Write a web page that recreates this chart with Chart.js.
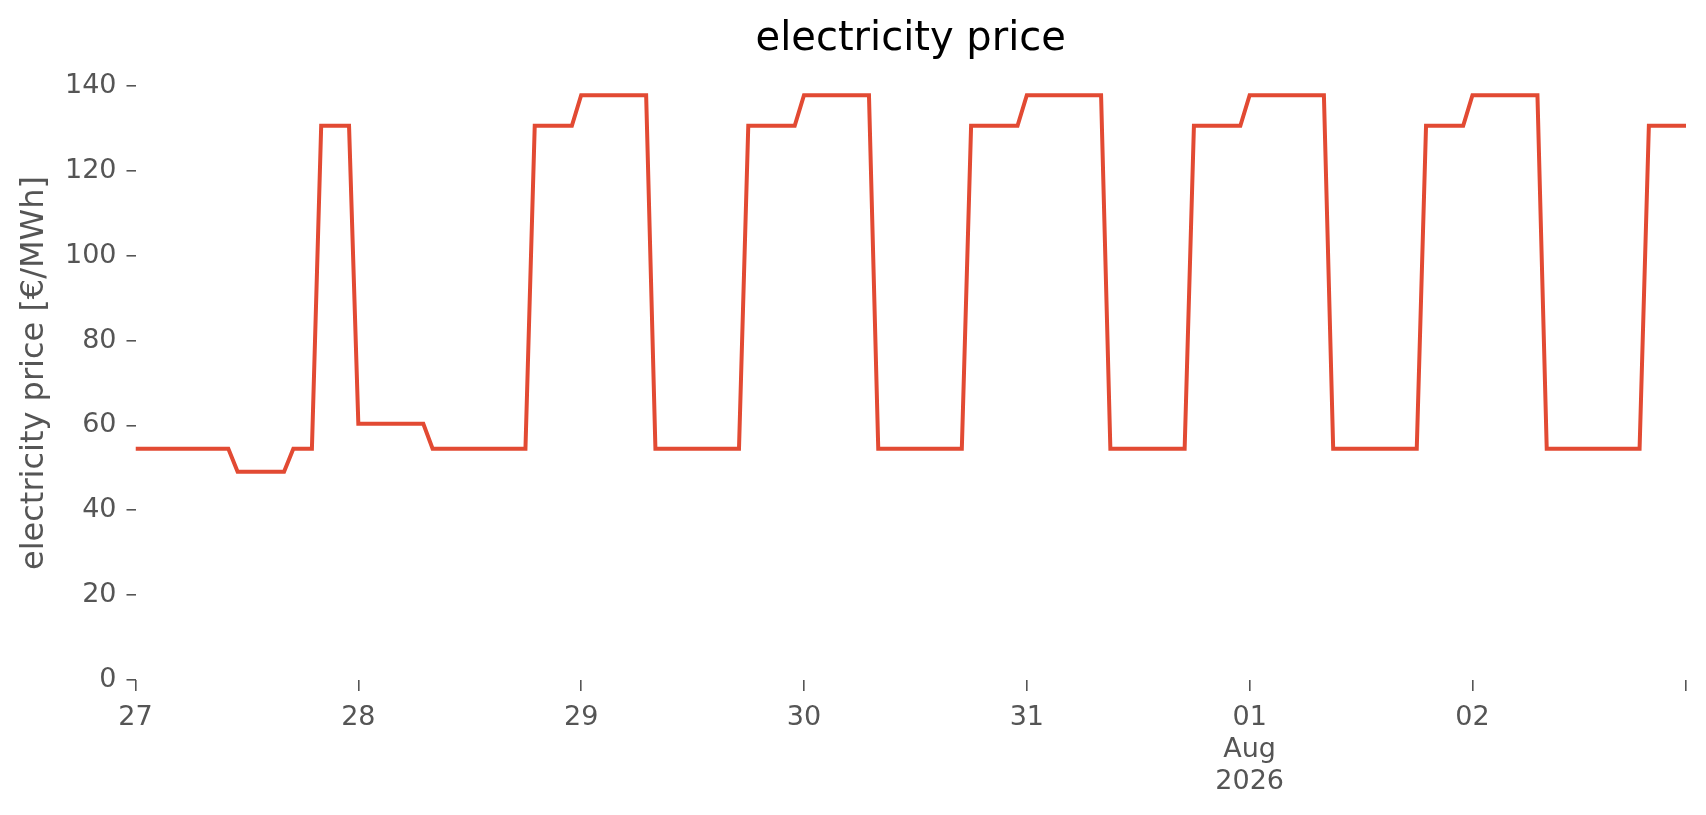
<!DOCTYPE html>
<html lang="en">
<head>
  <meta charset="UTF-8">
  <title>electricity price</title>
  <style>
    html, body { margin: 0; padding: 0; background: #fff; }
  </style>
</head>
<body>

<div>
  <canvas id="priceChart" width="1706" height="815"></canvas>
</div>

<script src="https://cdn.jsdelivr.net/npm/chart.js"></script>

<script>
  // hourly price per day [€/MWh], 27 Jul - 02 Aug 2026
  const jul27 = [54.5, 54.5, 54.5, 54.5, 54.5, 54.5, 54.5, 54.5, 54.5, 54.5, 54.5, 49.1,
                 49.1, 49.1, 49.1, 49.1, 49.1, 54.5, 54.5, 54.5, 130.6, 130.6, 130.6, 130.6];
  const jul28 = [60.4, 60.4, 60.4, 60.4, 60.4, 60.4, 60.4, 60.4, 54.5, 54.5, 54.5, 54.5,
                 54.5, 54.5, 54.5, 54.5, 54.5, 54.5, 54.5, 130.6, 130.6, 130.6, 130.6, 130.6];
  const jul29 = [137.8, 137.8, 137.8, 137.8, 137.8, 137.8, 137.8, 137.8, 54.5, 54.5, 54.5, 54.5,
                 54.5, 54.5, 54.5, 54.5, 54.5, 54.5, 130.6, 130.6, 130.6, 130.6, 130.6, 130.6];
  const jul30 = [137.8, 137.8, 137.8, 137.8, 137.8, 137.8, 137.8, 137.8, 54.5, 54.5, 54.5, 54.5,
                 54.5, 54.5, 54.5, 54.5, 54.5, 54.5, 130.6, 130.6, 130.6, 130.6, 130.6, 130.6];
  const jul31 = [137.8, 137.8, 137.8, 137.8, 137.8, 137.8, 137.8, 137.8, 137.8, 54.5, 54.5, 54.5,
                 54.5, 54.5, 54.5, 54.5, 54.5, 54.5, 130.6, 130.6, 130.6, 130.6, 130.6, 130.6];
  const aug01 = [137.8, 137.8, 137.8, 137.8, 137.8, 137.8, 137.8, 137.8, 137.8, 54.5, 54.5, 54.5,
                 54.5, 54.5, 54.5, 54.5, 54.5, 54.5, 54.5, 130.6, 130.6, 130.6, 130.6, 130.6];
  const aug02 = [137.8, 137.8, 137.8, 137.8, 137.8, 137.8, 137.8, 137.8, 54.5, 54.5, 54.5, 54.5,
                 54.5, 54.5, 54.5, 54.5, 54.5, 54.5, 54.5, 130.6, 130.6, 130.6, 130.6, 130.6];

  // x ticks (hour index) and their labels
  const tickHours = [0, 24, 48, 72, 96, 120, 144, 167];
  const dayLabels = ['27', '28', '29', '30', '31', ['01', 'Aug', '2026'], '02', ''];
  const yTicks = [0, 20, 40, 60, 80, 100, 120, 140];

  const prices = [].concat(jul27, jul28, jul29, jul30, jul31, aug01, aug02);
  const points = prices.map((v, i) => ({ x: i, y: v }));

  Chart.defaults.font.family = "'DejaVu Sans', sans-serif";

  const ctx = document.getElementById('priceChart').getContext('2d');
  const priceChart = new Chart(ctx, {
    type: 'line',
    data: {
      datasets: [{
        label: 'electricity price',
        data: points,
        borderColor: '#E24A33',
        borderWidth: 4,
        pointRadius: 0,
        tension: 0,
        fill: false
      }]
    },
    options: {
      responsive: false,
      devicePixelRatio: 1,
      animation: false,
      layout: { padding: { left: 0, right: 20, top: 0, bottom: 0 } },
      plugins: {
        legend: { display: false },
        tooltip: { enabled: false },
        title: {
          display: true,
          fullSize: false, // centre over the plot area like matplotlib
          text: 'electricity price',
          color: '#000',
          font: { size: 40, weight: 'normal' },
          padding: { top: 16, bottom: 2 }
        }
      },
      scales: {
        x: {
          type: 'linear',
          min: 0,
          max: 167,
          afterBuildTicks: s => { s.ticks = tickHours.map(v => ({ value: v })); },
          afterFit: s => { s.height = 135; },
          border: { display: false },
          grid: { drawOnChartArea: false, drawTicks: true, tickLength: 11, color: '#555', lineWidth: 1.6 },
          ticks: {
            autoSkip: false,
            maxRotation: 0,
            color: '#555',
            padding: 11,
            font: { size: 27, lineHeight: 1.185 },
            callback: v => {
              const i = tickHours.indexOf(v);
              return i >= 0 ? dayLabels[i] : '';
            }
          }
        },
        y: {
          min: 0,
          max: 144.7,
          afterBuildTicks: s => { s.ticks = yTicks.map(v => ({ value: v })); },
          afterFit: s => { s.width = 135.5; },
          border: { display: false },
          grid: { drawOnChartArea: false, drawTicks: true, tickLength: 9, color: '#555', lineWidth: 1.6 },
          ticks: { color: '#555', padding: 10, font: { size: 27 } },
          title: {
            display: true,
            text: 'electricity price [€/MWh]',
            color: '#555',
            font: { size: 32 },
            padding: { top: 15, bottom: 0 }
          }
        }
      }
    }
  });
</script>
</body>
</html>
